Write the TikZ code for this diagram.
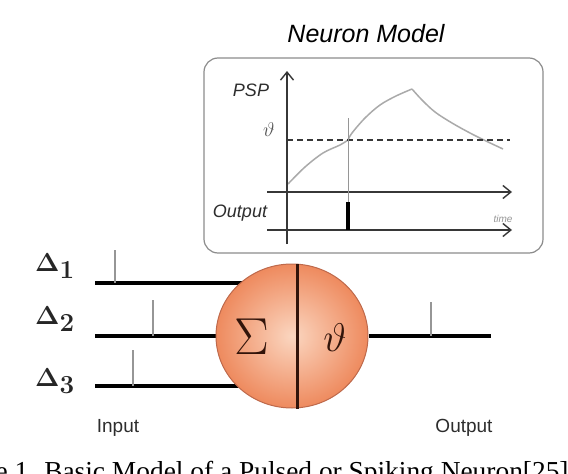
\documentclass[tikz,border=0pt]{standalone}
\usepackage{fix-cm}
\usepackage{fontspec}
\setsansfont{Liberation Sans}
\newfontfamily\capfont{Liberation Serif}
\usetikzlibrary{arrows.meta,shapes.geometric,backgrounds}
\definecolor{axisgray}{RGB}{55,55,55}
\definecolor{curvegray}{RGB}{170,170,170}
\definecolor{tickgray}{RGB}{150,150,150}
\definecolor{boxgray}{RGB}{140,140,140}
\definecolor{orinner}{RGB}{251,214,192}
\definecolor{orouter}{RGB}{238,138,94}
\definecolor{orborder}{RGB}{190,105,75}
\definecolor{divbrown}{RGB}{50,20,10}
\definecolor{labgray}{RGB}{45,45,45}
\tikzset{
  titletext/.style={font=\sffamily\itshape\fontsize{25}{25}\selectfont, inner sep=0pt},
  paneltext/.style={font=\sffamily\itshape\fontsize{18}{18}\selectfont, text=labgray, inner sep=0pt},
  smalltext/.style={font=\sffamily\itshape\fontsize{10}{10}\selectfont, text=tickgray, inner sep=0pt},
  iotext/.style={font=\sffamily\fontsize{19}{19}\selectfont, text=labgray, inner sep=0pt},
  deltatext/.style={font=\boldmath\fontsize{26}{26}\selectfont, text=black!85, inner sep=0pt, anchor=base west},
  panel/.style={draw=boxgray, line width=1.2pt, rounded corners=14pt, fill=white, minimum width=339pt, minimum height=195pt, inner sep=0pt},
  axisline/.style={draw=axisgray, line width=1.4pt},
  arrowaxis/.style={axisline, -{Straight Barb[length=8pt, width=13pt, line width=1.4pt]}},
  curve/.style={draw=curvegray, line width=1.5pt},
  wire/.style={draw=black, line width=3.6pt},
  tick/.style={draw=tickgray, line width=1.4pt},
  neuron/.style={ellipse, draw=orborder, line width=1pt, minimum width=152pt, minimum height=144pt, inner sep=0pt, inner color=orinner, outer color=orouter},
  divider/.style={draw=divbrown, line width=3pt},
  captiontext/.style={font=\capfont\fontsize{27.4}{27.4}\selectfont, inner sep=0pt, anchor=base west}
}
\begin{document}
\begin{tikzpicture}[x=1pt,y=-1pt]
\useasboundingbox (0,0) rectangle (568,474);
\clip (0,0) rectangle (568,474);
% title and panel
\node[titletext] (title) at (366,34) {Neuron Model};
\node[panel] (panel) at (373.5,155.5) {};
% axes
\coordinate (yaxb) at (287,244);
\coordinate (yaxt) at (287,71);
\coordinate (t1s) at (267,192);
\coordinate (t1e) at (512,192);
\coordinate (t2s) at (267,230);
\coordinate (t2e) at (512,230);
\coordinate (th1) at (287,140);
\coordinate (th2) at (510,140);
\draw[curve] plot[smooth, tension=0.55] coordinates {(288,184) (305,167) (323,153) (340,145) (348,140)};
\draw[curve] plot[smooth, tension=0.55] coordinates {(348,140) (352,133) (365,118) (380,105) (396,96) (412,89)};
\draw[curve] plot[smooth, tension=0.55] coordinates {(412,89) (422,100) (435,112) (452,123) (470,133) (486,141) (503,149)};
\draw[axisline, dashed, dash pattern=on 6pt off 4pt] (th1) -- (th2);
\draw[arrowaxis] (yaxb) -- (yaxt);
\draw[arrowaxis] (t1s) -- (t1e);
\draw[arrowaxis] (t2s) -- (t2e);
\coordinate (sp1) at (348,118);
\coordinate (sp2) at (348,230);
\coordinate (sp3) at (348,202);
\draw[tick, line width=1pt] (sp1) -- (sp2);
\draw[draw=black, line width=4pt] (sp3) -- (sp2);
\node[paneltext] (psp) at (251,90) {PSP};
\node[font=\fontsize{20}{20}\selectfont, text=labgray!80, inner sep=0pt] (thlab) at (269,130) {$\vartheta$};
\node[paneltext] (outlab) at (240,213) {Output};
\node[smalltext] (time) at (503,219) {time};
% neuron
\node[neuron] (neuron) at (292,336) {};
\draw[divider] ([xshift=5pt]neuron.north) -- ([xshift=5pt]neuron.south);
\node[font=\fontsize{52}{52}\selectfont, text=divbrown, inner sep=0pt] (sigma) at (252,337) {$\Sigma$};
\node[font=\fontsize{40}{40}\selectfont, text=divbrown, inner sep=0pt] (theta) at (335,338) {$\vartheta$};
% input wires
\coordinate (in1) at (95,283);
\coordinate (in2) at (95,336);
\coordinate (in3) at (95,386);
\coordinate (outend) at (491,336);
\begin{pgfonlayer}{background}
\draw[wire] (in1) -- (in1 -| neuron.center);
\draw[wire] (in2) -- (in2 -| neuron.center);
\draw[wire] (in3) -- (in3 -| neuron.center);
\end{pgfonlayer}
\draw[wire] (neuron.east) -- (outend);
% ticks
\coordinate (k1a) at (115,250); \coordinate (k1b) at (115,283);
\coordinate (k2a) at (153,300); \coordinate (k2b) at (153,336);
\coordinate (k3a) at (133,350); \coordinate (k3b) at (133,386);
\coordinate (k4a) at (431,302); \coordinate (k4b) at (431,336);
\draw[tick] (k1a) -- (k1b);
\draw[tick] (k2a) -- (k2b);
\draw[tick] (k3a) -- (k3b);
\draw[tick] (k4a) -- (k4b);
% labels
\node[deltatext] (d1) at (35,271) {$\Delta_{\textstyle 1}$};
\node[deltatext] (d2) at (35,324) {$\Delta_{\textstyle 2}$};
\node[deltatext] (d3) at (35,386) {$\Delta_{\textstyle 3}$};
\node[iotext] (input) at (118,428) {Input};
\node[iotext] (output) at (464,428) {Output};
\node[captiontext] (caption) at (-64,480) {Figure 1. Basic Model of a Pulsed or Spiking Neuron[25]};
\end{tikzpicture}
\end{document}
